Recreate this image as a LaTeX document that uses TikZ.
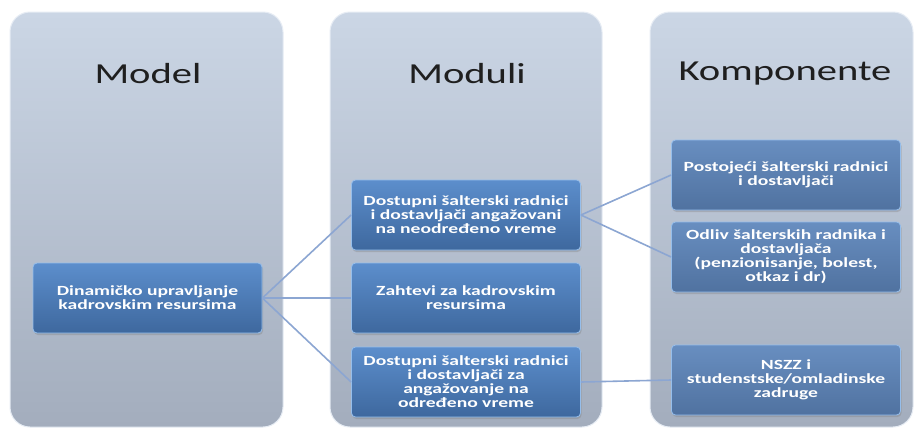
\documentclass[tikz,border=0pt]{standalone}
\usepackage{fontspec}
\setmainfont[FakeStretch=1.4]{Carlito}
\usetikzlibrary{shadows}
\definecolor{panelTop}{RGB}{203,214,229}
\definecolor{panelBot}{RGB}{163,173,189}
\definecolor{panelEdge}{RGB}{230,236,244}
\definecolor{boxTop}{RGB}{92,142,204}
\definecolor{boxBot}{RGB}{62,104,158}
\definecolor{boxEdge}{RGB}{150,190,235}
\definecolor{kTop}{RGB}{104,142,192}
\definecolor{kBot}{RGB}{80,114,160}
\definecolor{conn}{RGB}{140,166,210}
\tikzset{
  panel/.style={top color=panelTop, bottom color=panelBot, draw=panelEdge, line width=1pt, rounded corners=20pt},
  ptitle/.style={font=\fontsize{29}{34}\selectfont, text=black!88},
  bluebox/.style={rectangle, rounded corners=4pt, minimum width=229pt, minimum height=70pt,
     top color=boxTop, bottom color=boxBot, draw=boxEdge, line width=0.8pt,
     text=white, font=\bfseries\fontsize{14}{14}\selectfont, align=center, inner sep=2pt,
     drop shadow={opacity=0.35, shadow xshift=1pt, shadow yshift=-2pt}},
  kbox/.style={bluebox, top color=kTop, bottom color=kBot},
  link/.style={draw=conn, line width=1.6pt}
}
\begin{document}
\begin{tikzpicture}[x=1pt,y=-1pt]
\useasboundingbox (0,0) rectangle (915,429);
\fill[white] (0,0) rectangle (915,429);
% panels
\shade[panel] (10,12) rectangle (283,427);
\shade[panel] (330,12) rectangle (602,427);
\shade[panel] (650,12) rectangle (913,427);
% titles
\node[ptitle] (t1) at (148,74) {Model};
\node[ptitle] (t2) at (467,74) {Moduli};
\node[ptitle] (t3) at (785,74) {Komponente};
% boxes
\node[bluebox] (m) at (147.5,298) {Dinamičko upravljanje\\kadrovskim resursima};
\node[bluebox] (d1) at (466,215) {Dostupni šalterski radnici\\i dostavljači angažovani\\na neodređeno vreme};
\node[bluebox] (d2) at (466,298) {Zahtevi za kadrovskim\\resursima};
\node[bluebox] (d3) at (466,382) {Dostupni šalterski radnici\\i dostavljači za\\angažovanje na\\određeno vreme};
\node[kbox] (k1) at (786,175) {Postojeći šalterski radnici\\i dostavljači};
\node[kbox] (k2) at (786,257) {Odliv šalterskih radnika i\\dostavljača\\(penzionisanje, bolest,\\otkaz i dr)};
\node[kbox] (k3) at (786,380) {NSZZ i\\studenstske/omladinske\\zadruge};
% connectors
\draw[link] (m.east) -- (d1.west);
\draw[link] (m.east) -- (d2.west);
\draw[link] (m.east) -- (d3.west);
\draw[link] (d1.east) -- (k1.west);
\draw[link] (d1.east) -- (k2.west);
\draw[link] (d3.east) -- (k3.west);
\end{tikzpicture}
\end{document}
